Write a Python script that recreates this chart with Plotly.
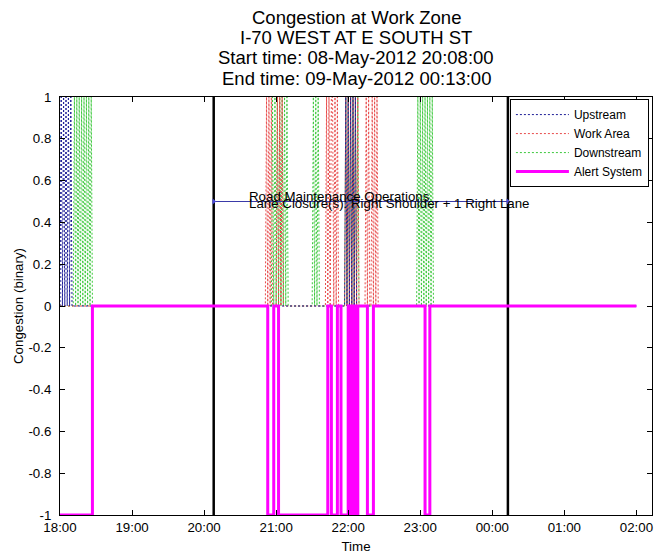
import plotly.graph_objects as go
from datetime import datetime, timedelta

# Analysis window and work-zone period
window_start = datetime(2012, 5, 8, 18, 0)
window_end = datetime(2012, 5, 9, 2, 0)
axis_end = datetime(2012, 5, 9, 2, 13)
zone_start = "2012-05-08 20:08:00"
zone_end = "2012-05-09 00:13:00"
zone_label_x = "2012-05-08 20:36:00"

title_lines = [
    "Congestion at Work Zone",
    "I-70 WEST AT E SOUTH ST",
    "Start time: 08-May-2012 20:08:00",
    "End time: 09-May-2012 00:13:00",
]
zone_text = ["Road Maintenance Operations",
             "Lane Closure(s): Right Shoulder + 1 Right Lane"]

# Binary congestion flags, one character per 1-minute sample,
# given as (first sample "HH:MM", flags); every other sample is 0
upstream_windows = [("18:01", "101010101"), ("21:58", "1010101010")]
workarea_windows = [
    ("20:52", "10101"), ("21:01", "10101"), ("21:42", "10101"),
    ("21:47", "101010"), ("21:58", "10101010101"), ("22:15", "1010"),
    ("22:20", "10101"),
]
downstream_windows = [
    ("18:12", "1010101010101010"), ("20:57", "1010"), ("21:01", "10101"),
    ("21:07", "1010"), ("21:31", "10101"), ("21:58", "10101010101"),
    ("22:58", "1010101010101"),
]

# Alert system state changes (held until the next change)
alert_times = ["18:00", "18:27", "20:53", "20:58", "21:02", "21:43", "21:46",
               "21:51", "21:54", "22:00", "22:01", "22:02", "22:03", "22:04",
               "22:05", "22:06", "22:07", "22:08", "22:16", "22:21", "23:04",
               "23:08", "02:00"]
alert_values = [-1, 0, -1, 0, -1, 0, -1, 0, -1, 0, -1, 0, -1, 0, -1, 0, -1, 0,
                -1, 0, -1, 0, 0]

y_ticks = [-1, -0.8, -0.6, -0.4, -0.2, 0, 0.2, 0.4, 0.6, 0.8, 1]
y_tick_labels = ["-1", "-0.8", "-0.6", "-0.4", "-0.2", "0", "0.2", "0.4",
                 "0.6", "0.8", "1"]

FONT = "Arial, Liberation Sans, sans-serif"


def clock(hhmm):
    h, m = map(int, hhmm.split(":"))
    day = window_start.date() if h >= 12 else window_start.date() + timedelta(days=1)
    return datetime(day.year, day.month, day.day, h, m)


def build_series(windows):
    n = int((window_end - window_start).total_seconds() // 60) + 1
    times = [window_start + timedelta(minutes=i) for i in range(n)]
    vals = [0] * n
    for start, flags in windows:
        k = int((clock(start) - window_start).total_seconds() // 60)
        for j, ch in enumerate(flags):
            vals[k + j] = int(ch)
    return times, vals


fig = go.Figure()

series = [
    ("Downstream", downstream_windows, "#3cc83c", 3),
    ("Work Area", workarea_windows, "#e84a4a", 2),
    ("Upstream", upstream_windows, "#1c1c96", 1),
]
for name, windows, color, rank in series:
    tx, ty = build_series(windows)
    fig.add_trace(go.Scatter(
        x=tx, y=ty, mode="lines", name=name, legendrank=rank,
        line=dict(color=color, width=1, dash="2px,2px"),
    ))

# Work-zone start/end markers
for t in (zone_start, zone_end):
    fig.add_trace(go.Scatter(
        x=[t, t], y=[-1, 1], mode="lines", showlegend=False,
        line=dict(color="black", width=2.5),
    ))

# Work-zone duration bar
fig.add_trace(go.Scatter(
    x=[zone_start, zone_end], y=[0.5, 0.5], mode="lines+markers",
    showlegend=False,
    line=dict(color="#3a3aa8", width=1),
    marker=dict(symbol="triangle-right", size=5, color="#4a4ad8"),
))

fig.add_trace(go.Scatter(
    x=[clock(t) for t in alert_times], y=alert_values, mode="lines",
    name="Alert System", legendrank=4, line_shape="hv",
    line=dict(color="#ff00ff", width=3),
))

annotations = []
title_y = [18, 38, 57.5, 78]
for text, py in zip(title_lines, title_y):
    annotations.append(dict(
        text=text, xref="paper", yref="paper", x=0.5, y=(515 - py) / 418,
        xanchor="center", yanchor="middle", showarrow=False,
        font=dict(family=FONT, size=18.5, color="black"),
    ))
for text, shift in zip(zone_text, (-4.5, -11)):
    annotations.append(dict(
        text=text, x=zone_label_x, y=0.5, xref="x", yref="y",
        xanchor="left", yanchor="bottom", yshift=shift, showarrow=False,
        font=dict(family=FONT, size=13.3, color="black"),
    ))

fig.update_layout(
    width=662, height=554,
    margin=dict(l=60, r=10, t=97, b=39),
    paper_bgcolor="white", plot_bgcolor="white",
    font=dict(family=FONT, size=13.3, color="black"),
    annotations=annotations,
    showlegend=True,
    legend=dict(
        x=0.760, y=0.995, xanchor="left", yanchor="top",
        bgcolor="white", bordercolor="black", borderwidth=1,
        font=dict(family=FONT, size=12, color="black"),
        tracegroupgap=0, itemwidth=53,
    ),
    xaxis=dict(
        range=[window_start, axis_end], type="date", automargin=False,
        tick0=window_start, dtick=3600000, tickformat="%H:%M",
        ticks="inside", ticklen=5, tickcolor="black", ticklabelstandoff=0,
        showline=True, linecolor="black", linewidth=1, mirror="ticks",
        showgrid=False, zeroline=False,
        title=dict(text="Time", standoff=9, font=dict(size=13.3)),
    ),
    yaxis=dict(
        range=[-1, 1], tickvals=y_ticks, ticktext=y_tick_labels,
        automargin=False,
        ticks="inside", ticklen=5, tickcolor="black", ticklabelstandoff=5,
        showline=True, linecolor="black", linewidth=1, mirror="ticks",
        showgrid=False, zeroline=False,
        title=dict(text="Congestion (binary)", standoff=1, font=dict(size=13.3)),
    ),
)

fig.write_html("out.html")
